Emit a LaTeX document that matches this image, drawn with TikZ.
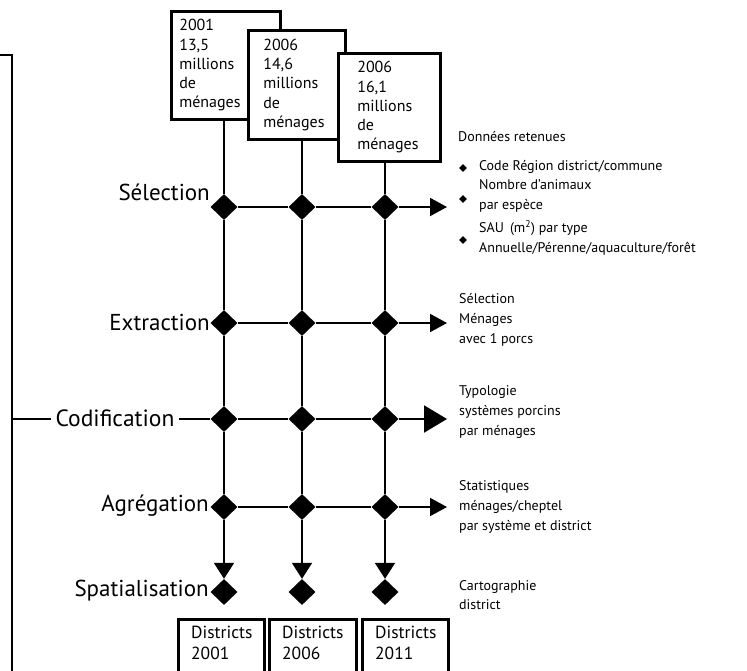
\documentclass[tikz,border=0pt]{standalone}
\usepackage{fontspec}
\setmainfont{PT Sans}
\usetikzlibrary{shapes.geometric,arrows.meta}
\begin{document}
\begin{tikzpicture}[x=1pt,y=-1pt,
  ln/.style={line width=2pt},
  dia/.style={diamond,fill=black,inner sep=0pt,minimum width=27pt,minimum height=26pt},
  bul/.style={diamond,fill=black,inner sep=0pt,minimum width=8pt,minimum height=8pt},
  topbox/.style={draw,line width=2.6pt,fill=white,anchor=north west,align=left,inner ysep=0pt,
     font=\fontsize{16}{19.3}\selectfont},
  dbox/.style={draw,line width=2.6pt,fill=white,anchor=north west,minimum height=70pt},
  dtxt/.style={anchor=north west,align=left,inner sep=0pt,font=\fontsize{17.5}{21}\selectfont},
  rowlab/.style={anchor=east,inner sep=0pt,font=\fontsize{23}{26}\selectfont},
  rtxt/.style={anchor=west,align=left,inner sep=0pt,font=\fontsize{14}{19.7}\selectfont},
  arr/.style={ln,-{Triangle[length=17pt,width=18pt]}},
  bigarr/.style={ln,-{Triangle[length=23pt,width=27pt]}},
  darr/.style={ln,-{Triangle[length=16pt,width=20pt]}}
]
\clip (0,0) rectangle (747,670);
\useasboundingbox (0,0) rectangle (747,670);

% top boxes
\node[topbox,minimum height=108pt,inner xsep=8pt,text width=93pt] (b1) at (170,10)
  {2001\\13,5\\millions\\de\\ménages};
\node[topbox,minimum height=109pt,inner xsep=15pt,text width=67pt] (b2) at (247,29)
  {2006\\14,6\\millions\\de\\ménages};
\node[topbox,minimum height=108pt,inner xsep=19pt,text width=64pt] (b3) at (337,52)
  {2006\\16,1\\millions\\de\\ménages};

% diamonds
\foreach \c/\x in {1/224,2/302,3/385}{
  \node[dia] (s\c) at (\x,207) {};
  \node[dia] (x\c) at (\x,323) {};
  \node[dia] (c\c) at (\x,419) {};
  \node[dia] (a\c) at (\x,507) {};
  \node[dia] (p\c) at (\x,592) {};
}

% arrow end points
\coordinate (es) at (447,207);
\coordinate (ex) at (447,323);
\coordinate (ec) at (447,419);
\coordinate (ea) at (447,507);

% verticals
\draw[ln] (s1 |- b1.south) -- (s1) -- (x1) -- (c1) -- (a1);
\draw[ln] (s2 |- b2.south) -- (s2) -- (x2) -- (c2) -- (a2);
\draw[ln] (s3 |- b3.south) -- (s3) -- (x3) -- (c3) -- (a3);
\draw[darr] (a1) -- (p1.north);
\draw[darr] (a2) -- (p2.north);
\draw[darr] (a3) -- (p3.north);

% horizontals
\draw[ln] (s1) -- (s2) -- (s3);
\draw[arr] (s3) -- (es);
\draw[ln] (x1) -- (x2) -- (x3);
\draw[arr] (x3) -- (ex);
\draw[ln] (c1) -- (c2) -- (c3);
\draw[bigarr] (c3) -- (ec);
\draw[ln] (a1) -- (a2) -- (a3);
\draw[arr] (a3) -- (ea);

% row labels
\node[rowlab] (lsel) at (210,192) {Sélection};
\node[rowlab] (lext) at (210,322) {Extraction};
\node[font=\fontsize{23.5}{26}\selectfont,inner xsep=4pt,inner ysep=0pt] (lcod) at (115,418) {Codification};
\node[rowlab] (lagr) at (209,506) {Agrégation};
\node[rowlab] (lspa) at (209,591) {Spatialisation};

% left bracket
\coordinate (lt) at (0,55);
\coordinate (lc) at (12,55);
\coordinate (lb) at (12,675);
\coordinate (lm) at (12,419);
\draw[line width=2.4pt] (lt) -- (lc) -- (lb);
\draw[ln] (lm) -- (lcod.west |- lm);
\draw[ln] (lcod.east |- c1) -- (c1);

% right texts
\node[rtxt] (dr) at (458,137) {Données retenues};
\node[bul] (bu1) at (463,168) {};
\node[bul] (bu2) at (463,199) {};
\node[bul] (bu3) at (463,240) {};
\node[rtxt] (t1) at (479,167) {Code Région district/commune};
\node[rtxt] (t2) at (479,196) {Nombre d’animaux\\par espèce};
\node[rtxt] (t3) at (479,238) {SAU\, (m\textsuperscript{2}) par type\\Annuelle/Pérenne/aquaculture/forêt};
\node[rtxt] (r1) at (459,320) {Sélection\\Ménages\\avec 1 porcs};
\node[rtxt] (r2) at (459,412) {Typologie\\systèmes porcins\\par ménages};
\node[rtxt] (r3) at (459,507) {Statistiques\\ménages/cheptel\\par système et district};
\node[rtxt] (r4) at (459,595) {Cartographie\\district};

% bottom boxes
\node[dbox,minimum width=86pt] (d1) at (177,618) {};
\node[dbox,minimum width=87pt] (d2) at (268,618) {};
\node[dbox,minimum width=86pt] (d3) at (361,618) {};
\node[dtxt] (dt1) at ([shift={(14,8)}]d1.north west) {Districts\\2001};
\node[dtxt] (dt2) at ([shift={(14,8)}]d2.north west) {Districts\\2006};
\node[dtxt] (dt3) at ([shift={(14,8)}]d3.north west) {Districts\\2011};
\end{tikzpicture}
\end{document}
